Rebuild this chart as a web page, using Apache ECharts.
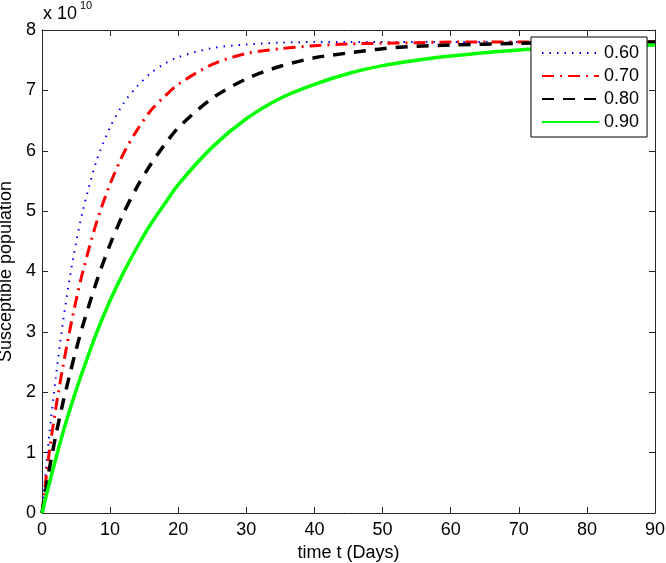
<!DOCTYPE html>
<html>
<head>
<meta charset="utf-8">
<script src="https://cdn.jsdelivr.net/npm/echarts@6/dist/echarts.min.js"></script>
<style>html,body{margin:0;padding:0;background:#fff;}#c{width:666px;height:563px;}</style>
</head>
<body>
<div id="c"></div>
<script>
// time points (days)
var tDays = [0, 1, 2, 3, 4, 5, 6, 8, 10, 12, 14, 16, 18, 20, 25, 30, 35, 40, 45, 50, 55, 60, 70, 80, 90];
// Susceptible population (x 10^10)
var s060 = [0, 1.22, 2.22, 3.10, 3.84, 4.48, 5.01, 5.83, 6.39, 6.79, 7.07, 7.29, 7.44, 7.55, 7.70, 7.76, 7.79, 7.80, 7.80, 7.80, 7.80, 7.80, 7.80, 7.80, 7.80];
var s070 = [0, 0.95, 1.72, 2.38, 2.98, 3.52, 4.00, 4.81, 5.45, 5.96, 6.35, 6.67, 6.90, 7.10, 7.43, 7.61, 7.69, 7.74, 7.77, 7.78, 7.79, 7.80, 7.80, 7.80, 7.80];
var s080 = [0, 0.68, 1.27, 1.79, 2.26, 2.70, 3.11, 3.83, 4.45, 4.97, 5.41, 5.78, 6.10, 6.38, 6.87, 7.19, 7.40, 7.54, 7.62, 7.69, 7.73, 7.75, 7.78, 7.80, 7.80];
var s090 = [0, 0.46, 0.89, 1.30, 1.68, 2.03, 2.36, 2.98, 3.52, 3.99, 4.41, 4.79, 5.12, 5.44, 6.06, 6.53, 6.87, 7.10, 7.28, 7.41, 7.50, 7.57, 7.67, 7.72, 7.75];
var seriesNames = ['0.60', '0.70', '0.80', '0.90'];
var xTicks = {min: 0, max: 90, interval: 10};
var yTicks = {min: 0, max: 8, interval: 1};

function pairs(v) { return tDays.map(function (t, i) { return [t, v[i]]; }); }

var FONT = 'Liberation Sans, Arial, Helvetica, sans-serif';
var AX = '#262626';
function axisCommon(showLabel) {
  return {
    type: 'value',
    axisLine: {show: true, onZero: false, lineStyle: {color: AX, width: 1}},
    axisTick: {show: true, inside: true, length: 6, lineStyle: {color: AX}},
    splitLine: {show: false},
    axisLabel: {show: showLabel, fontSize: 18, fontFamily: FONT, color: '#000', margin: 8}
  };
}
var xb = Object.assign(axisCommon(true), xTicks, {position: 'bottom', name: 'time t (Days)', nameLocation: 'middle', nameGap: 28,
  nameTextStyle: {fontSize: 18, fontFamily: FONT, color: '#000'}});
var xt = Object.assign(axisCommon(false), xTicks, {position: 'top'});
var yl = Object.assign(axisCommon(true), yTicks, {position: 'left', name: 'Susceptible population', nameLocation: 'middle', nameGap: 23,
  nameTextStyle: {fontSize: 18, fontFamily: FONT, color: '#000'}});
yl.axisLabel.margin = 6;
var yr = Object.assign(axisCommon(false), yTicks, {position: 'right'});

var chart = echarts.init(document.getElementById('c'), null, {renderer: 'canvas'});
chart.setOption({
  animation: false,
  backgroundColor: '#fff',
  grid: {left: 42, right: 11, top: 30, bottom: 50, containLabel: false, outerBoundsMode: 'none'},
  xAxis: [xb, xt],
  yAxis: [yl, yr],
  legend: {
    orient: 'vertical', left: 531, top: 37,
    padding: [7, 8, 6, 10], itemWidth: 57, itemHeight: 12, itemGap: 5,
    borderColor: '#000', borderWidth: 1, backgroundColor: '#fff',
    itemStyle: {opacity: 0},
    textStyle: {fontSize: 18, lineHeight: 18, fontFamily: FONT, color: '#000'},
    data: seriesNames
  },
  graphic: [
    {type: 'text', left: 43, top: 5, style: {text: 'x 10', font: '18px ' + FONT, fill: '#000'}},
    {type: 'text', left: 80, top: 0, style: {text: '10', font: '11px ' + FONT, fill: '#000'}}
  ],
  series: [
    {name: seriesNames[0], type: 'line', data: pairs(s060), symbol: 'none', smooth: 0.3,
      lineStyle: {color: '#0000ff', width: 2, type: [1.5, 6]}, itemStyle: {color: '#0000ff'}},
    {name: seriesNames[1], type: 'line', data: pairs(s070), symbol: 'none', smooth: 0.3,
      lineStyle: {color: '#ff0000', width: 3, type: [12, 6, 2, 6]}, itemStyle: {color: '#ff0000'}},
    {name: seriesNames[2], type: 'line', data: pairs(s080), symbol: 'none', smooth: 0.3,
      lineStyle: {color: '#000000', width: 3.5, type: [12, 9]}, itemStyle: {color: '#000000'}},
    {name: seriesNames[3], type: 'line', data: pairs(s090), symbol: 'none', smooth: 0.3,
      lineStyle: {color: '#00ff00', width: 3.5, type: 'solid'}, itemStyle: {color: '#00ff00'}}
  ]
});
</script>
</body>
</html>
